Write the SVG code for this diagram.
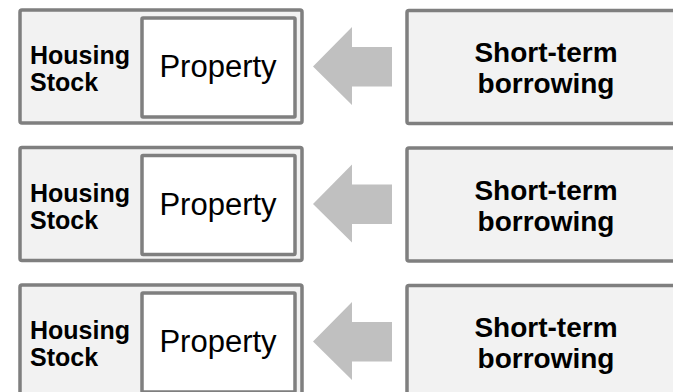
<svg xmlns="http://www.w3.org/2000/svg" width="673" height="392" viewBox="0 0 673 392">
<defs>
<style>
.outer{fill:#f2f2f2;stroke:#7f7f7f;stroke-width:3.5}
.inner{fill:#ffffff;stroke:#7f7f7f;stroke-width:3.5}
.arrow{fill:#c0c0c0}
.lbl{font-family:"Liberation Sans",Arial,sans-serif;font-weight:bold;font-size:25px;fill:#000}
.prop{font-family:"Liberation Sans",Arial,sans-serif;font-size:31px;fill:#000;text-anchor:middle}
.src{font-family:"Liberation Sans",Arial,sans-serif;font-weight:bold;font-size:28px;fill:#000;text-anchor:middle}
</style>
<path id="arr" class="arrow" d="M313,66.5 L352,27 L352,47 L392,47 L392,86.5 L352,86.5 L352,105 Z"/>
</defs>
<rect width="673" height="392" fill="#ffffff"/>
<g id="row1">
<g id="housing1">
<rect class="outer" x="20" y="10" width="282" height="113" rx="2"/>
<text class="lbl" x="30" y="64">Housing</text>
<text class="lbl" x="30" y="91">Stock</text>
</g>
<g id="property1">
<rect class="inner" x="142" y="18" width="153" height="99" rx="1"/>
<text class="prop" x="218" y="77">Property</text>
</g>
<g id="borrow1">
<rect class="outer" x="407" y="10.5" width="280" height="113" rx="2"/>
<text class="src" x="546" y="62">Short-term</text>
<text class="src" x="546" y="93">borrowing</text>
</g>
</g>
<g id="row2" transform="translate(0,137.5)">
<g id="housing2">
<rect class="outer" x="20" y="10" width="282" height="113" rx="2"/>
<text class="lbl" x="30" y="64">Housing</text>
<text class="lbl" x="30" y="91">Stock</text>
</g>
<g id="property2">
<rect class="inner" x="142" y="18" width="153" height="99" rx="1"/>
<text class="prop" x="218" y="77">Property</text>
</g>
<g id="borrow2">
<rect class="outer" x="407" y="10.5" width="280" height="113" rx="2"/>
<text class="src" x="546" y="62">Short-term</text>
<text class="src" x="546" y="93">borrowing</text>
</g>
</g>
<g id="row3" transform="translate(0,275)">
<g id="housing3">
<rect class="outer" x="20" y="10" width="282" height="113" rx="2"/>
<text class="lbl" x="30" y="64">Housing</text>
<text class="lbl" x="30" y="91">Stock</text>
</g>
<g id="property3">
<rect class="inner" x="142" y="18" width="153" height="99" rx="1"/>
<text class="prop" x="218" y="77">Property</text>
</g>
<g id="borrow3">
<rect class="outer" x="407" y="10.5" width="280" height="113" rx="2"/>
<text class="src" x="546" y="62">Short-term</text>
<text class="src" x="546" y="93">borrowing</text>
</g>
</g>
<g id="connectors">
<use href="#arr"/>
<use href="#arr" transform="translate(0,137.5)"/>
<use href="#arr" transform="translate(0,275)"/>
</g>
</svg>
